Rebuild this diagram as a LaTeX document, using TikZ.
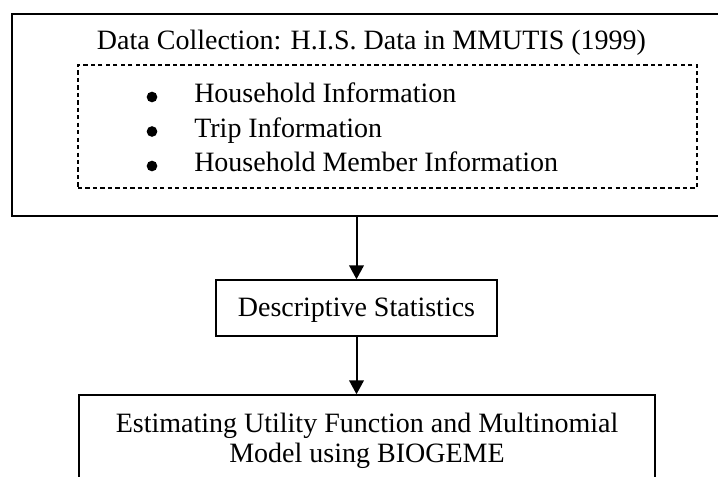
\documentclass[tikz,border=0pt]{standalone}
\usepackage{fontspec}
\setmainfont{Liberation Serif}
\usetikzlibrary{arrows.meta}
\begin{document}
\begin{tikzpicture}[x=0.75pt,y=-0.75pt,
  box/.style={draw, line width=1.1pt, rectangle, inner sep=0pt},
  dbox/.style={draw, line width=0.8pt, rectangle, inner sep=0pt, dash pattern=on 3.2pt off 2.4pt},
  txt/.style={font=\fontsize{21}{25}\selectfont, inner sep=0pt},
  dot/.style={circle, fill, inner sep=0pt, minimum size=8pt},
  arr/.style={line width=1.5pt, -{Triangle[length=10.5pt,width=11pt]}}]
\useasboundingbox (0,0) rectangle (718,477);
\clip (0,0) rectangle (718,477);
% boxes
\node[box, minimum width=534pt, minimum height=151.5pt] (outer) at (368,115) {};
\node[dbox, minimum width=464.25pt, minimum height=92.25pt] (inner) at (387.5,126.5) {};
\node[box, minimum width=210.75pt, minimum height=42pt] (desc) at (356.5,308) {};
\node[box, minimum width=432pt, minimum height=90pt] (model) at (367,455) {};
% texts
\node[txt, anchor=base] (title) at (371.5,50) {Data Collection: H.I.S. Data in MMUTIS (1999)};
\node[dot] (b1) at (152,97) {};
\node[dot] (b2) at (152,131.5) {};
\node[dot] (b3) at (152,166) {};
\node[txt, anchor=base west] (t1) at (194,103) {Household Information};
\node[txt, anchor=base west] (t2) at (194,137.5) {Trip Information};
\node[txt, anchor=base west] (t3) at (194,172) {Household Member Information};
\node[txt, anchor=base] (dtext) at (356.5,317) {Descriptive Statistics};
\node[txt, anchor=base] (m1) at (367,432) {Estimating Utility Function and Multinomial};
\node[txt, anchor=base] (m2) at (367,462) {Model using BIOGEME};
% arrows
\draw[arr] (outer.south -| desc.north) -- (desc.north);
\draw[arr] (desc.south) -- (model.north -| desc.south);
\end{tikzpicture}
\end{document}
